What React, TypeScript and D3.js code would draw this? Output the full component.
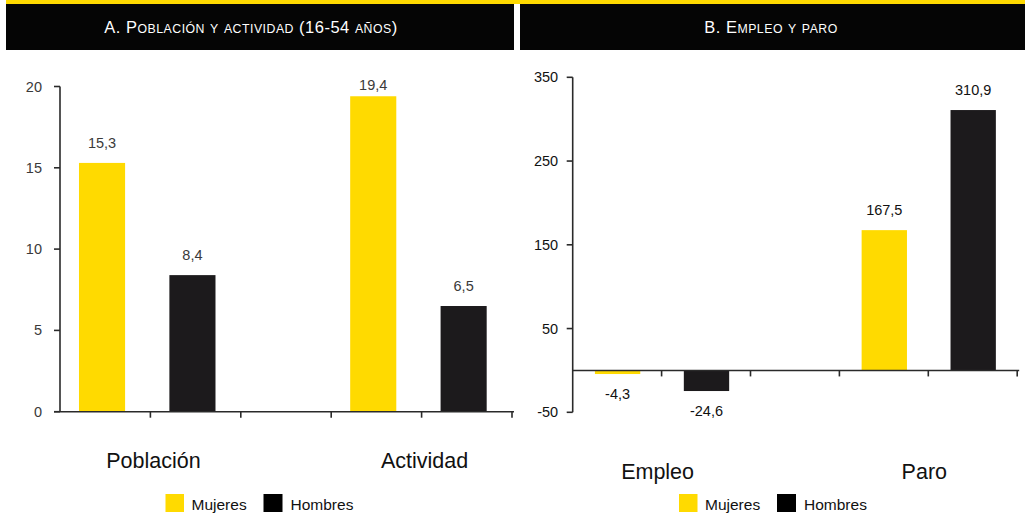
import React from "react";
import * as d3 from "d3";

// ---- Data ----
const seriesNames = ["Mujeres", "Hombres"];
const seriesColors = ["#FFDA00", "#1C1A1C"];

const titleA = "A. Población y actividad (16-54 años)";
const categoriesA = ["Población", "Actividad"];
const mujeresA = [15.3, 19.4];
const hombresA = [8.4, 6.5];
const ticksA = [0, 5, 10, 15, 20];

const titleB = "B. Empleo y paro";
const categoriesB = ["Empleo", "Paro"];
const mujeresB = [-4.3, 167.5];
const hombresB = [-24.6, 310.9];
const ticksB = [-50, 50, 150, 250, 350];

const locale = d3.formatLocale({ decimal: ",", thousands: ".", grouping: [3], currency: ["", "€"], minus: "-" });
const fmt = locale.format(".1f");

const FONT = "'Liberation Sans', Arial, Helvetica, sans-serif";

function SmallCaps({ text, size, small }: { text: string; size: number; small: number }) {
  const runs: { s: string; low: boolean }[] = [];
  for (const ch of text) {
    const low = ch !== ch.toUpperCase();
    const last = runs[runs.length - 1];
    if (last && last.low === low) last.s += ch;
    else runs.push({ s: ch, low });
  }
  return (
    <>
      {runs.map((r, i) => (
        <tspan key={i} fontSize={r.low ? small : size}>
          {r.low ? r.s.toUpperCase() : r.s}
        </tspan>
      ))}
    </>
  );
}

type PanelProps = {
  title: string;
  categories: string[];
  mujeres: number[];
  hombres: number[];
  ticks: number[];
  headerX0: number;
  headerX1: number;
  titleX: number;
  axisX: number;
  xEnd: number;
  yTop: number;
  yBottom: number;
  barOffset: number;
  textColor: string;
  catBaseline: number;
  catShift: number;
  legendX: number;
  negLabel: number;
  posLabel: number;
  clampTop: boolean;
  tickLabelGap: number;
};

function Panel(p: PanelProps) {
  const domainMin = d3.min(p.ticks)!;
  const domainMax = d3.max(p.ticks)!;
  const y = d3.scaleLinear().domain([domainMin, domainMax]).range([p.yBottom, p.yTop]);
  const slots = ["0-0", "0-1", "gap", "1-0", "1-1"];
  const x = d3.scaleBand<string>().domain(slots).range([p.axisX, p.xEnd]).padding(0);
  const bw = x.bandwidth();
  const barW = bw * 0.51;
  const baseVal = Math.max(0, domainMin);
  const y0 = y(baseVal);

  const bars: { key: string; v: number; color: string }[] = [];
  p.categories.forEach((_, ci) => {
    bars.push({ key: `${ci}-0`, v: p.mujeres[ci], color: seriesColors[0] });
    bars.push({ key: `${ci}-1`, v: p.hombres[ci], color: seriesColors[1] });
  });

  const boundaries = slots.map((s) => x(s)! + bw);
  const axisColor = "#2a2a2a";

  return (
    <g>
      <rect x={p.headerX0} y={4} width={p.headerX1 - p.headerX0} height={46} fill="#050505" />
      <text x={p.titleX} y={33} textAnchor="middle" fill="#ffffff" fontFamily={FONT} letterSpacing={0.5}>
        <SmallCaps text={p.title} size={16.5} small={12.3} />
      </text>

      {bars.map((b) => {
        const bx = x(b.key)! + bw * p.barOffset;
        const yv = y(b.v);
        return (
          <rect key={b.key} x={bx} y={Math.min(yv, y0)} width={barW} height={Math.abs(yv - y0)} fill={b.color} />
        );
      })}

      {bars.map((b) => {
        const cx = x(b.key)! + bw * p.barOffset + barW / 2;
        const yv = y(b.v);
        let ly = b.v >= 0 ? yv - p.posLabel : yv + p.negLabel;
        if (p.clampTop) ly = Math.max(ly, y(domainMax) + 3.5);
        return (
          <text key={"l" + b.key} x={cx} y={ly} textAnchor="middle" fontSize={14.5} fontFamily={FONT} fill={p.textColor}>
            {fmt(b.v)}
          </text>
        );
      })}

      <line x1={p.axisX} x2={p.axisX} y1={y(domainMin)} y2={y(domainMax)} stroke={axisColor} strokeWidth={1.6} />
      {p.ticks.map((t) => (
        <g key={"t" + t}>
          <line x1={p.axisX - 6} x2={p.axisX} y1={y(t)} y2={y(t)} stroke={axisColor} strokeWidth={1.6} />
          <text
            x={p.axisX - p.tickLabelGap}
            y={y(t)}
            dy="0.35em"
            textAnchor="end"
            fontSize={14.5}
            fontFamily={FONT}
            fill={p.textColor}
          >
            {t}
          </text>
        </g>
      ))}

      <line x1={p.axisX - (domainMin >= 0 ? 6 : 0)} x2={p.xEnd + 2} y1={y0} y2={y0} stroke={axisColor} strokeWidth={1.6} />
      {boundaries.map((bx, i) => (
        <line key={"xb" + i} x1={bx} x2={bx} y1={y0} y2={y0 + 6} stroke={axisColor} strokeWidth={1.6} />
      ))}

      {p.categories.map((c, ci) => {
        const cx = (x(`${ci}-0`)! + x(`${ci}-1`)! + bw) / 2 + p.catShift;
        return (
          <text key={"c" + c} x={cx} y={p.catBaseline} textAnchor="middle" fontSize={21.5} fontFamily={FONT} fill="#111">
            {c}
          </text>
        );
      })}

      <g>
        <rect x={p.legendX} y={494} width={18.5} height={18} fill={seriesColors[0]} />
        <text x={p.legendX + 26} y={509.5} fontSize={15.5} fontFamily={FONT} fill="#111">
          {seriesNames[0]}
        </text>
        <rect x={p.legendX + 98} y={494} width={19} height={18} fill="#000" />
        <text x={p.legendX + 125} y={509.5} fontSize={15.5} fontFamily={FONT} fill="#111">
          {seriesNames[1]}
        </text>
      </g>
    </g>
  );
}

export default function App() {
  return (
    <svg width={1025} height={515} viewBox="0 0 1025 515" style={{ position: "absolute", left: 0, top: 0, background: "#fff" }}>
      <rect x={0} y={0} width={1025} height={515} fill="#fff" />
      <rect x={6} y={0} width={1019} height={4} fill="#FFDA00" />
      <Panel
        title={titleA}
        categories={categoriesA}
        mujeres={mujeresA}
        hombres={hombresA}
        ticks={ticksA}
        headerX0={6}
        headerX1={514}
        titleX={251}
        axisX={60}
        xEnd={512}
        yTop={86.5}
        yBottom={411.7}
        barOffset={0.21}
        textColor="#3a3a3a"
        catBaseline={468}
        catShift={3}
        legendX={165.5}
        negLabel={25}
        posLabel={15}
        clampTop={true}
        tickLabelGap={18}
      />
      <Panel
        title={titleB}
        categories={categoriesB}
        mujeres={mujeresB}
        hombres={hombresB}
        ticks={ticksB}
        headerX0={520}
        headerX1={1025}
        titleX={771}
        axisX={572.7}
        xEnd={1017.2}
        yTop={77.3}
        yBottom={412.3}
        barOffset={0.25}
        textColor="#111"
        catBaseline={478.5}
        catShift={-4}
        legendX={679}
        negLabel={25}
        posLabel={15}
        clampTop={false}
        tickLabelGap={14.5}
      />
    </svg>
  );
}
